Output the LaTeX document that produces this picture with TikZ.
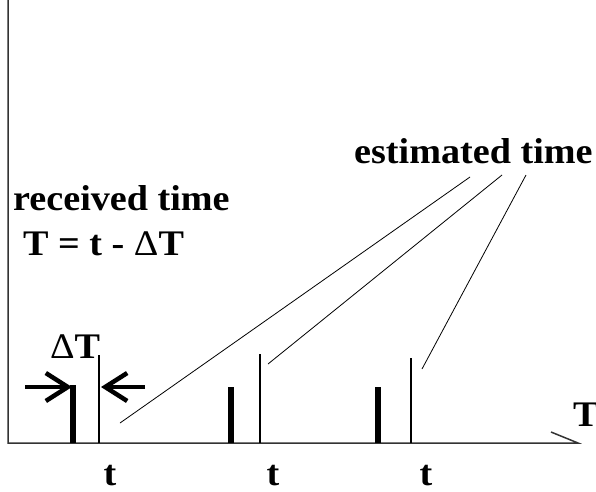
\documentclass[tikz,border=0pt]{standalone}
\usepackage{fontspec}
\setmainfont{Liberation Serif}
\newfontfamily\widefont[FakeStretch=1.06]{Liberation Serif}
\usetikzlibrary{arrows.meta}

\begin{document}
\begin{tikzpicture}[x=1pt, y=-1pt,
  lbl/.style={inner sep=0pt, anchor=base west, font=\widefont\fontsize{36}{40}\selectfont\bfseries},
  thinpulse/.style={line width=2pt},
  thickpulse/.style={line width=6pt},
  pointer/.style={line width=0.8pt},
  gap/.style={line width=4pt, -{Straight Barb[length=22pt, width=28pt, line width=4.5pt]}}]
\useasboundingbox (0,0) rectangle (596,491);
% pixel coordinates, y grows downwards; time axis at y = \ya
\def\ya{443}

% --- Axes ---
\draw[line width=1.5pt, black!80] (8,0) -- (8,\ya) -- (578,\ya) -- (551,432);
\node[lbl] (axT) at (573,426) {T};

% --- Pulses: thick = received, thin = estimated ---
\foreach \xa/\ha/\xb/\hb/\xt [count=\i] in {73/385/99/355/110, 231/387/260/354/273, 378/387/411/358/426} {
  \draw[thickpulse] (\xa,\ya) -- (\xa,\ha);
  \draw[thinpulse] (\xb,\ya) -- (\xb,\hb);
  \node[lbl, anchor=base] (t\i) at (\xt,485) {t};
}

% --- Delta T between the first pair ---
\coordinate (gl) at (25,387);
\coordinate (gla) at (72,387);
\coordinate (gr) at (145,387);
\coordinate (gra) at (101,387);
\draw[gap] (gl) -- (gla);
\draw[gap] (gr) -- (gra);
\node[lbl] (dT) at (50,358) {{\mdseries Δ}T};

% --- Labels ---
\node[lbl] (recv) at (13,210) {received time};
\node[lbl] (eq) at (23,255) {T = t - {\mdseries Δ}T};
\node[lbl] (est) at (354,163) {estimated time};

% --- Pointers from the label to the estimated pulses ---
\coordinate (e1) at (470,177);
\coordinate (e2) at (502,175);
\coordinate (e3) at (526,175);
\coordinate (p1) at (120,423);
\coordinate (p2) at (268,364);
\coordinate (p3) at (422,369);
\foreach \i in {1,2,3}
  \draw[pointer] (e\i) -- (p\i);
\end{tikzpicture}
\end{document}
